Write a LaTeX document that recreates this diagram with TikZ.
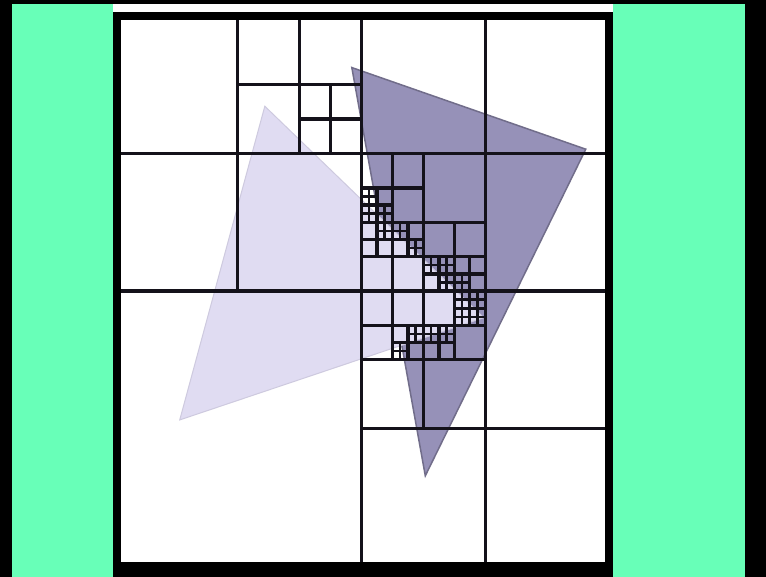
\documentclass[tikz,border=0pt]{standalone}
\usepackage{xcolor}
\usepackage{tikz}
\definecolor{screengreen}{RGB}{104,255,184}
\definecolor{backtri}{RGB}{150,145,184}
\definecolor{fronttri}{RGB}{224,220,242}
\definecolor{gridink}{RGB}{20,18,26}

\begin{document}
\begin{tikzpicture}[x=0.2mm, y=-0.2mm]
    \tikzstyle{frame} = [draw=black, line width=1.6mm]
    \tikzstyle{cell} = [draw=gridink, line width=0.68mm]
    \tikzstyle{finecell} = [draw=gridink, line width=0.5mm]
    \tikzstyle{backface} = [fill=backtri, draw=backtri!75!black, line width=0.3mm]
    \tikzstyle{frontface} = [fill=fronttri, draw=fronttri!92!black, line width=0.2mm]

    % screen and side bars
    \useasboundingbox (0,0) rectangle (766,577);
    \fill[black] (0,0) rectangle (766,577);
    \fill[screengreen] (12,4) rectangle (113,577);
    \fill[screengreen] (613,4) rectangle (745,577);
    \fill[white] (113,4) rectangle (613,12);
    \fill[white] (117,16) rectangle (609,566);

    % quadtree in 128 x 128 cell units
    \begin{scope}[shift={(114,16)}, x=0.7734mm, y=-0.8594mm]
        \coordinate (p) at (61.5,12);
        \coordinate (q) at (122,31);
        \coordinate (r) at (80.5,107);
        \coordinate (a) at (39,21);
        \coordinate (b) at (17,94);
        \coordinate (v) at (95.6,70.2);

        \filldraw[backface] (p) -- (q) -- (r) -- cycle;
        \filldraw[frontface] (a) -- (b) -- (v) -- cycle;

        \foreach \x/\y/\s in {0/0/128, 0/0/64, 64/0/64, 64/64/64,
                32/0/32, 64/32/32, 64/64/32,
                48/16/16, 64/32/16, 64/48/16, 80/48/16, 64/64/16, 80/64/16,
                64/40/8, 64/48/8, 72/48/8, 80/56/8, 88/56/8, 72/72/8, 80/72/8, 88/64/8}
            \draw[cell] ({\x+\s/2},\y) -- ++(0,\s) (\x,{\y+\s/2}) -- ++(\s,0);

        \foreach \x/\y in {64/40, 64/44, 68/44, 68/48, 72/48, 76/52,
                80/56, 84/56, 84/60, 88/60, 88/64, 92/64, 88/68, 92/68,
                76/72, 72/76, 80/72, 84/72}
            \draw[finecell] ({\x+2},\y) -- ++(0,4) (\x,{\y+2}) -- ++(4,0);
    \end{scope}

    \draw[frame] (117,16) rectangle (609,566);
\end{tikzpicture}
\end{document}
